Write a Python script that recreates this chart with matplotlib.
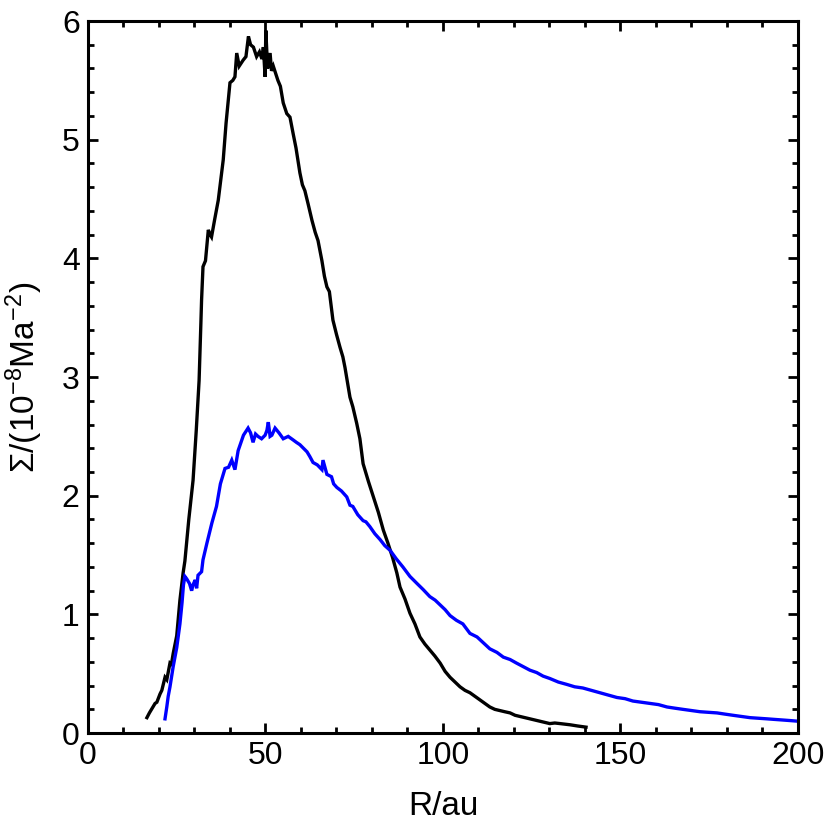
import matplotlib
matplotlib.use("Agg")
import matplotlib.pyplot as plt
from matplotlib.ticker import MultipleLocator

# surface density profiles (R in au, Sigma in 1e-8 Ma^-2)
black_r = [16.6, 17.3, 17.9, 18.9, 19.4, 20.3, 20.8, 21.7, 22.2, 23.1, 23.5, 24.0,
           25.0, 25.9, 26.8, 27.3, 28.4, 29.6, 30.5, 31.3, 31.8, 32.0, 32.4, 33.1,
           33.9, 34.4, 34.8, 35.7, 36.7, 38.1, 38.9, 40.0, 40.8, 41.4, 41.9, 42.6,
           43.7, 44.5, 45.2, 45.8, 46.6, 47.5, 48.3, 49.0, 49.4, 49.9, 50.1, 50.6,
           51.3, 51.7, 52.2, 53.5, 54.2, 55.0, 56.0, 56.9, 57.8, 58.6, 59.7, 60.4,
           61.1, 62.0, 63.1, 64.0, 64.8, 65.9, 66.6, 67.3, 68.0, 69.0, 70.0, 71.0,
           71.8, 72.4, 73.8, 74.6, 75.7, 76.6, 77.5, 79.0, 80.4, 81.8, 83.2, 84.5,
           85.8, 87.0, 87.9, 89.3, 90.7, 92.1, 93.5, 94.9, 96.3, 97.7, 99.2, 100.6,
           102.0, 103.4, 104.8, 106.2, 107.6, 109.0, 110.4, 111.8, 113.2, 114.6,
           116.0, 117.4, 118.9, 120.3, 121.7, 123.1, 124.5, 125.9, 127.3, 128.7,
           130.1, 131.5, 133.0, 134.4, 135.8, 137.9, 140.3]
black_s = [0.13, 0.17, 0.20, 0.25, 0.26, 0.33, 0.36, 0.47, 0.45, 0.59, 0.58, 0.67,
           0.82, 1.12, 1.35, 1.45, 1.80, 2.13, 2.55, 2.97, 3.45, 3.65, 3.93, 3.98,
           4.24, 4.20, 4.18, 4.33, 4.49, 4.83, 5.14, 5.48, 5.50, 5.53, 5.73, 5.62,
           5.67, 5.70, 5.87, 5.80, 5.78, 5.70, 5.74, 5.68, 5.78, 5.53, 5.92, 5.60,
           5.73, 5.58, 5.62, 5.50, 5.45, 5.31, 5.22, 5.19, 5.05, 4.93, 4.72, 4.62,
           4.57, 4.46, 4.32, 4.22, 4.15, 3.98, 3.85, 3.76, 3.72, 3.48, 3.36, 3.25,
           3.17, 3.08, 2.83, 2.75, 2.61, 2.48, 2.27, 2.12, 1.99, 1.86, 1.71, 1.60,
           1.48, 1.35, 1.23, 1.13, 1.01, 0.92, 0.81, 0.75, 0.70, 0.65, 0.59, 0.52,
           0.47, 0.43, 0.39, 0.36, 0.34, 0.31, 0.28, 0.25, 0.22, 0.20, 0.19, 0.18,
           0.17, 0.15, 0.14, 0.13, 0.12, 0.11, 0.10, 0.09, 0.08, 0.085, 0.08, 0.075,
           0.07, 0.06, 0.05]

blue_r = [21.7, 22.2, 22.6, 23.1, 24.0, 25.0, 25.9, 26.5, 26.9, 27.3, 27.8, 28.6,
          29.2, 29.6, 30.2, 30.6, 31.0, 32.0, 32.4, 33.5, 34.9, 36.2, 37.3, 38.6,
          39.6, 40.5, 41.4, 42.3, 43.8, 45.1, 45.8, 46.5, 47.2, 47.9, 48.9, 49.9,
          50.4, 50.8, 51.3, 51.8, 52.7, 53.8, 55.0, 56.4, 57.8, 58.7, 59.7, 60.7,
          61.7, 62.5, 63.4, 64.6, 65.9, 66.2, 67.3, 68.6, 69.2, 70.1, 71.4, 72.9,
          73.8, 74.6, 76.0, 77.5, 78.3, 79.4, 80.8, 82.3, 83.6, 85.1, 86.8, 88.7,
          90.7, 92.7, 94.4, 96.3, 97.8, 99.2, 100.6, 102.0, 103.8, 105.6, 107.6,
          109.6, 111.4, 113.2, 115.2, 117.0, 118.9, 120.7, 122.6, 124.5, 126.4,
          128.2, 130.1, 132.5, 134.9, 137.1, 139.4, 141.8, 144.2, 146.6, 149.0,
          151.3, 153.5, 155.9, 158.3, 160.7, 163.1, 165.3, 167.6, 170.0, 172.4,
          174.8, 177.2, 179.4, 181.7, 184.1, 186.5, 188.9, 191.3, 193.5, 195.8, 198.0,
          200.0]
blue_s = [0.12, 0.22, 0.31, 0.39, 0.56, 0.72, 0.92, 1.10, 1.25, 1.32, 1.30, 1.26,
          1.20, 1.25, 1.29, 1.22, 1.33, 1.36, 1.46, 1.60, 1.77, 1.91, 2.10, 2.23,
          2.24, 2.30, 2.22, 2.38, 2.51, 2.57, 2.53, 2.45, 2.52, 2.50, 2.48, 2.51,
          2.55, 2.62, 2.50, 2.51, 2.57, 2.53, 2.48, 2.50, 2.47, 2.45, 2.43, 2.40,
          2.37, 2.33, 2.28, 2.26, 2.22, 2.30, 2.18, 2.16, 2.10, 2.07, 2.04, 1.99,
          1.92, 1.91, 1.84, 1.79, 1.78, 1.74, 1.68, 1.63, 1.58, 1.54, 1.47, 1.40,
          1.32, 1.26, 1.21, 1.15, 1.12, 1.08, 1.04, 0.99, 0.95, 0.92, 0.84,
          0.81, 0.76, 0.71, 0.68, 0.64, 0.62, 0.59, 0.56, 0.53, 0.51,
          0.48, 0.46, 0.43, 0.41, 0.39, 0.38, 0.36, 0.34, 0.32, 0.30,
          0.29, 0.27, 0.26, 0.25, 0.24, 0.22, 0.21, 0.20, 0.19, 0.18,
          0.175, 0.17, 0.16, 0.15, 0.14, 0.13, 0.125, 0.12, 0.115, 0.11, 0.105,
          0.10]

plt.rcParams['font.family'] = ['Liberation Sans', 'DejaVu Sans']
plt.rcParams['mathtext.default'] = 'regular'

fig = plt.figure(figsize=(8.3, 8.34), dpi=100)
ax = fig.add_axes([0.106, 0.121, 0.8554, 0.8538])

ax.plot(black_r, black_s, color='black', lw=2.4, solid_joinstyle='miter')
ax.plot(blue_r, blue_s, color='#0000ff', lw=2.4, solid_joinstyle='miter')

ax.set_xlim(0, 200)
ax.set_ylim(0, 6)
ax.xaxis.set_major_locator(MultipleLocator(50))
ax.xaxis.set_minor_locator(MultipleLocator(10))
ax.yaxis.set_major_locator(MultipleLocator(1))
ax.yaxis.set_minor_locator(MultipleLocator(0.2))
ax.tick_params(which='both', direction='in', top=True, right=True, width=2,
               labelsize=23, pad=6)
ax.tick_params(which='major', length=7.5)
ax.tick_params(which='minor', length=4.5)
for sp in ax.spines.values():
    sp.set_linewidth(2.2)

ax.set_xlabel('R/au', fontsize=24, labelpad=14)
ax.set_ylabel(r'$\Sigma/(10^{-8}$Ma$^{-2})$', fontsize=24, labelpad=12)

fig.savefig('out.png', dpi=100)
